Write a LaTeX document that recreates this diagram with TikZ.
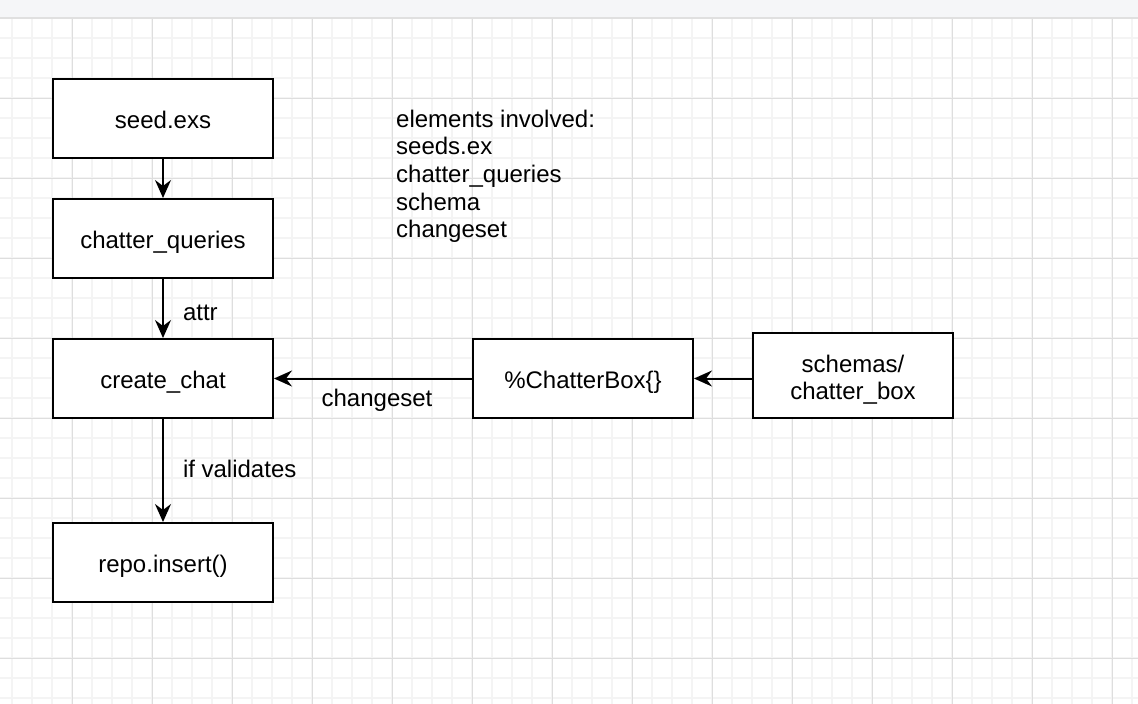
\documentclass[tikz,border=0pt]{standalone}
\usepackage{fontspec}
\setmainfont{Liberation Sans}
\usetikzlibrary{arrows.meta}
\definecolor{minorgrid}{HTML}{F4F4F4}
\definecolor{majorgrid}{HTML}{DEDEDE}
\definecolor{topbar}{HTML}{F5F6F8}
\tikzset{
  boxbase/.style={draw=black, line width=2pt, fill=white, minimum width=220pt, minimum height=79pt, inner sep=0pt, font=\fontsize{24pt}{27.7pt}\selectfont, align=center},
  box/.style={boxbase, text height=20pt, text depth=1pt},
  conn/.style={line width=2pt, -{Stealth[length=18pt,width=16pt,inset=6pt]}},
  lbl/.style={inner sep=0pt, font=\fontsize{24pt}{27.7pt}\selectfont},
}
\begin{document}
\begin{tikzpicture}[x=1pt,y=-1pt]
\useasboundingbox (0,0) rectangle (1138,704);
\fill[white] (0,0) rectangle (1138,704);
% grid
\foreach \x in {12,32,...,1132} \draw[minorgrid, line width=1.6pt] (\x,18) -- (\x,704);
\foreach \y in {38,58,...,698} \draw[minorgrid, line width=1.6pt] (0,\y) -- (1138,\y);
\foreach \x in {72,152,...,1112} \draw[majorgrid, line width=1pt] (\x,18) -- (\x,704);
\foreach \y in {98,178,...,658} \draw[majorgrid, line width=1pt] (0,\y) -- (1138,\y);
% top bar
\fill[topbar] (0,0) rectangle (1138,17);
\fill[black!12] (0,16.5) rectangle (1138,18.5);
% nodes
\node[box] (seed) at (163,118.5) {seed.exs};
\node[box] (cq) at (163,238.5) {chatter\_queries};
\node[box] (cc) at (163,378.5) {create\_chat};
\node[box] (repo) at (163,562.5) {repo.insert()};
\node[box] (cb) at (583,378.5) {\%ChatterBox\{\}};
\node[boxbase, minimum width=200pt, minimum height=85pt] (sc) at (853,375.5) {\rule{0pt}{25.5pt}schemas/\\chatter\_box};
\node[lbl, anchor=north west, align=left] (elems) at (396,109.5) {elements involved:\\seeds.ex\\chatter\_queries\\schema\\changeset};
% connectors
\draw[conn] (seed) -- (cq);
\draw[conn] (cq) -- node[lbl, anchor=west, xshift=19pt, yshift=-4.5pt] {attr} (cc);
\draw[conn] (cc) -- node[lbl, anchor=west, xshift=19pt, yshift=1.5pt] {if validates} (repo);
\draw[conn] (cb.west) -- node[lbl, anchor=north, xshift=4pt, yshift=-10pt] {changeset} (cc.east);
\draw[conn] (sc.west |- cb.east) -- (cb.east);
\end{tikzpicture}
\end{document}
